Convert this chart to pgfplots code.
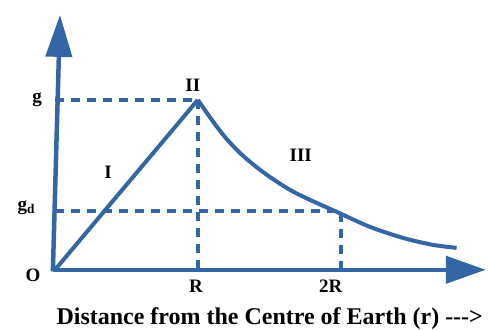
\documentclass[border=0pt]{standalone}
\usepackage{pgfplots}
\pgfplotsset{compat=1.18}
\usepackage{fontspec}
\setmainfont{Liberation Serif}
\usetikzlibrary{arrows.meta}
\definecolor{lineblue}{RGB}{52,101,164}

\begin{document}
\begin{tikzpicture}[
  lab/.style={font=\bfseries\fontsize{19bp}{22bp}\selectfont, text=black, inner sep=0pt},
]
\begin{axis}[
  width=488bp, height=329bp, scale only axis,
  xmin=-0.385, xmax=3.028, ymin=-0.347, ymax=1.588,
  hide axis, clip=false,
  guide/.style={lineblue, line width=4bp, dash pattern=on 9bp off 7bp},
]
% picture frame
\path (rel axis cs:0,0) rectangle (rel axis cs:1,1);

% axes with arrow heads
\draw[lineblue, line width=4.5bp, -{Triangle[length=40bp, width=27bp]}]
  (axis cs:-0.015,0) -- (axis cs:3.015,0);
\draw[lineblue, line width=4.5bp, -{Triangle[length=42bp, width=26bp]}]
  (axis cs:-0.015,-0.01) -- (axis cs:0.035,1.5);

% guide lines for g and g_d
\addplot[guide] coordinates {(0,1) (1,1)};
\addplot[guide] coordinates {(1,1) (1,0)};
\addplot[guide] coordinates {(0,0.345) (1.97,0.345)};
\addplot[guide] coordinates {(2,0.335) (2,0)};

% g inside the Earth (I) and outside (III)
\addplot[lineblue, line width=4bp, line join=round] coordinates {(0,0) (1,1)};
\addplot[lineblue, line width=4bp, smooth, tension=0.5] coordinates {
  (1,1) (1.098,0.882) (1.189,0.782) (1.294,0.688) (1.399,0.612)
  (1.503,0.547) (1.643,0.471) (1.783,0.412) (1.972,0.341)
  (2.203,0.253) (2.434,0.188) (2.643,0.147) (2.811,0.129)};

% labels
\node[lab] at (axis cs:-0.126,1.0) {g};
\node[lab] at (axis cs:-0.20,0.365) {g\textsubscript{d}};
\node[lab] at (axis cs:-0.154,-0.03) {O};
\node[lab] at (axis cs:0.986,-0.10) {R};
\node[lab] at (axis cs:1.93,-0.094) {2R};
\node[lab] at (axis cs:0.965,1.088) {II};
\node[lab] at (axis cs:0.371,0.571) {I};
\node[lab] at (axis cs:1.72,0.676) {III};
\node[lab, font=\bfseries\fontsize{24bp}{28bp}\selectfont] at (axis cs:1.503,-0.285)
  {Distance from the Centre of Earth (r) {-}{-}{-}>};
\end{axis}
\end{tikzpicture}
\end{document}
